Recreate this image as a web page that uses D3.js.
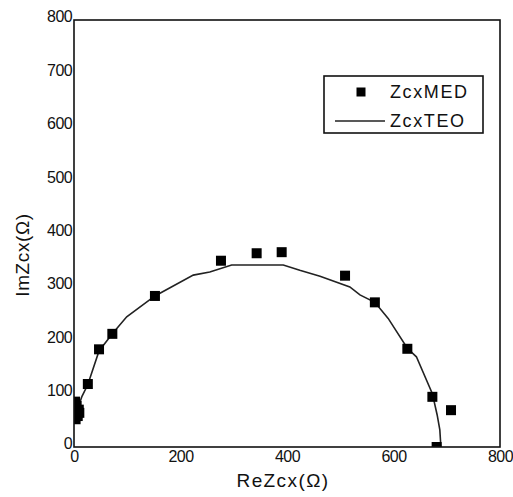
<!DOCTYPE html>
<html>
<head>
<meta charset="utf-8">
<script src="https://cdn.jsdelivr.net/npm/d3@7"></script>
<style>
  html, body { margin: 0; padding: 0; background: #fff; }
  svg { display: block; font-family: Arial, "Liberation Sans", sans-serif; }
</style>
</head>
<body>
<svg id="chart"></svg>
<script>
'use strict';

// ── Data ───────────────────────────────────────────────────
const xTicks = [0, 200, 400, 600, 800];
const yTicks = [0, 100, 200, 300, 400, 500, 600, 700, 800];

// measured points (ZcxMED)
const medRe = [2, 5, 9, 10, 7, 3, 26, 47, 72, 152, 276, 343, 390, 509, 565, 626, 673, 708, 681];
const medIm = [85, 77, 70, 64, 58, 52, 118, 183, 212, 283, 349, 363, 365, 321, 271, 184, 94, 69, 0];

// theoretical curve (ZcxTEO)
const teoRe = [2, 8, 15, 26, 47, 72, 99, 152, 224, 255, 296, 393, 424, 462, 518, 537, 565, 590, 626, 643, 673, 682, 687, 689];
const teoIm = [45, 75, 95, 117, 180, 212, 244, 283, 322, 328, 341, 341, 331, 320, 300, 285, 271, 241, 185, 169, 100, 60, 32, 0];

const legendLabels = ['ZcxMED', 'ZcxTEO'];

// ── Layout ─────────────────────────────────────────────────
const W = 513, H = 497;
const margin = { top: 20, right: 13, bottom: 50, left: 74 };
const iW = W - margin.left - margin.right;
const iH = H - margin.top - margin.bottom;
const ink = '#111';

const svg = d3.select('#chart').attr('width', W).attr('height', H);
const g = svg.append('g').attr('transform', `translate(${margin.left},${margin.top})`);

const x = d3.scaleLinear().domain([0, 800]).range([0, iW]);
const y = d3.scaleLinear().domain([0, 800]).range([iH, 0]);

svg.append('defs').append('clipPath').attr('id', 'plot-clip')
  .append('rect').attr('width', iW).attr('height', iH);

// ── Axes (labels only, no tick marks) ──────────────────────
const xAxis = g.append('g')
  .attr('transform', `translate(0,${iH})`)
  .call(d3.axisBottom(x).tickValues(xTicks).tickSize(0).tickPadding(4));
const yAxis = g.append('g')
  .call(d3.axisLeft(y).tickValues(yTicks).tickSize(0).tickPadding(2));

[xAxis, yAxis].forEach(ax => {
  ax.select('.domain').remove();
  ax.selectAll('text')
    .attr('fill', ink)
    .attr('font-size', 16)
    .attr('letter-spacing', '-0.6px')
    .attr('font-family', 'Arial, "Liberation Sans", sans-serif');
});
yAxis.selectAll('text').attr('dy', '0.12em');

// ── Data marks ─────────────────────────────────────────────
const plot = g.append('g').attr('clip-path', 'url(#plot-clip)');

const teo = teoRe.map((v, i) => [v, teoIm[i]]);
plot.append('path')
  .datum(teo)
  .attr('fill', 'none')
  .attr('stroke', '#222')
  .attr('stroke-width', 1.6)
  .attr('d', d3.line().x(d => x(d[0])).y(d => y(d[1])));

const sq = 10;
plot.selectAll('rect.med')
  .data(medRe.map((v, i) => [v, medIm[i]]))
  .join('rect')
  .attr('class', 'med')
  .attr('x', d => x(d[0]) - sq / 2)
  .attr('y', d => y(d[1]) - sq / 2)
  .attr('width', sq).attr('height', sq)
  .attr('fill', '#000');

// frame
g.append('rect')
  .attr('width', iW).attr('height', iH)
  .attr('fill', 'none')
  .attr('stroke', ink)
  .attr('stroke-width', 1.6);

// ── Axis titles ────────────────────────────────────────────
svg.append('text')
  .attr('x', margin.left + x(400) - 4)
  .attr('y', 487)
  .attr('text-anchor', 'middle')
  .attr('fill', ink)
  .attr('font-size', 19)
  .attr('letter-spacing', '1.4px')
  .text('ReZcx(Ω)');

svg.append('text')
  .attr('transform', 'translate(29,255) rotate(-90)')
  .attr('text-anchor', 'middle')
  .attr('fill', ink)
  .attr('font-size', 19)
  .attr('letter-spacing', '0.6px')
  .text('ImZcx(Ω)');

// ── Legend ─────────────────────────────────────────────────
const lg = svg.append('g').attr('transform', 'translate(324,76)');
lg.append('rect')
  .attr('width', 159).attr('height', 57)
  .attr('fill', '#fff')
  .attr('stroke', ink)
  .attr('stroke-width', 1.6);
lg.append('rect')
  .attr('x', 37 - 4.5).attr('y', 16 - 4.5)
  .attr('width', 9).attr('height', 9)
  .attr('fill', '#000');
lg.append('line')
  .attr('x1', 11).attr('x2', 61)
  .attr('y1', 45).attr('y2', 45)
  .attr('stroke', '#222').attr('stroke-width', 1.6);
legendLabels.forEach((t, i) => {
  lg.append('text')
    .attr('x', 66)
    .attr('y', 16 + i * 29)
    .attr('dy', '0.36em')
    .attr('fill', ink)
    .attr('font-size', 18)
    .attr('letter-spacing', '1.6px')
    .text(t);
});
</script>
</body>
</html>
